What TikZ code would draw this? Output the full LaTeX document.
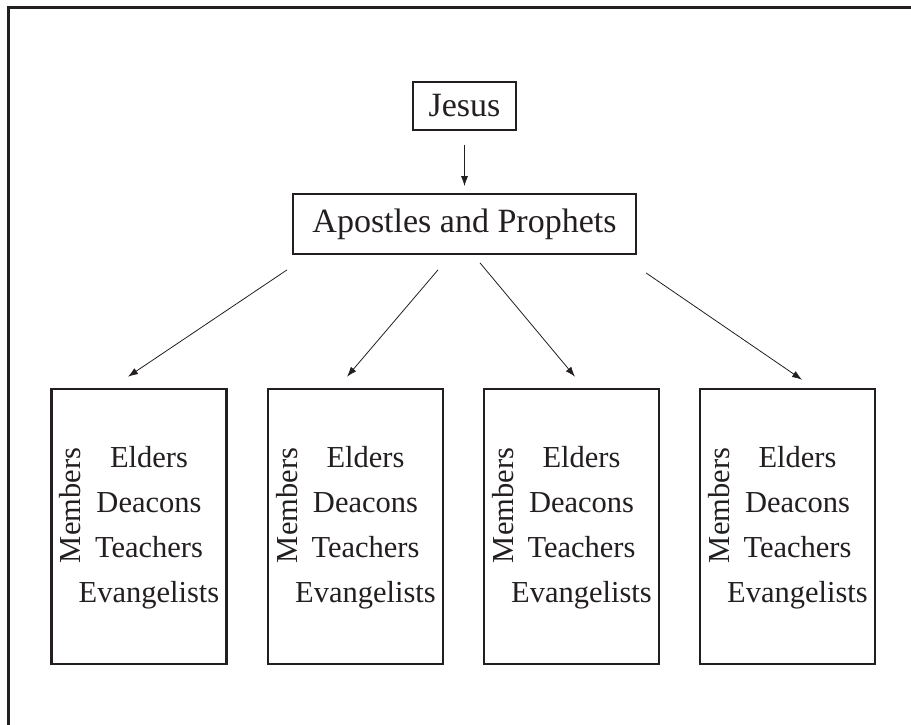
\documentclass[tikz,border=0pt]{standalone}
\usepackage{fontspec}
\setmainfont{Liberation Serif}
\usetikzlibrary{arrows.meta}
\definecolor{ink}{HTML}{231F20}
\tikzset{
  title-node/.style={
    draw=ink, line width=1.8pt, inner sep=0pt, text=ink,
    font=\fontsize{34}{40}\selectfont
  },
  office-node/.style={
    draw=ink, line width=2.6pt, inner sep=0pt,
    minimum width=175pt, minimum height=275pt
  },
  office-list/.style={align=center, inner sep=0pt, text=ink, font=\fontsize{30.5}{45}\selectfont},
  member-label/.style={rotate=90, inner sep=0pt, text=ink, font=\fontsize{30.5}{36}\selectfont},
  flow/.style={-{Latex[length=10pt, width=7pt]}, line width=0.8pt, draw=ink}
}

\begin{document}
\begin{tikzpicture}[x=1pt, y=1pt]
  \useasboundingbox (0,0) rectangle (911,-725);
  \draw[ink, line width=2.6pt] (8.5,-725) -- (8.5,-7.5) -- (911,-7.5);

  \node[title-node, minimum width=103pt, minimum height=48pt] (jesus)    at (464.5,-106) {Jesus};
  \node[title-node, minimum width=343pt, minimum height=60pt] (apostles) at (464.5,-224) {Apostles and Prophets};

  \foreach \i/\x in {1/139, 2/355.5, 3/571.5, 4/787.5} {
    \node[office-node]  (office\i)  at (\x,-526.5)      {};
    \node[office-list]  (list\i)    at (\x+10,-528)     {Elders\\Deacons\\Teachers\\Evangelists};
    \node[member-label] (members\i) at (\x-68.5,-505.5) {Members};
  }

  \draw[flow, shorten <=14pt, shorten >=7pt] (jesus) -- (apostles);
  \draw[flow] ([shift={(-177.5,-15)}]apostles.south) -- ([shift={(-11,11)}]office1.north);
  \draw[flow] ([shift={(-26.5,-15)}]apostles.south)  -- ([shift={(-8.5,11)}]office2.north);
  \draw[flow] ([shift={(15.5,-8)}]apostles.south)    -- ([shift={(3.5,11)}]office3.north);
  \draw[flow] ([shift={(181.5,-18)}]apostles.south)  -- ([shift={(14.5,8)}]office4.north);
\end{tikzpicture}
\end{document}
